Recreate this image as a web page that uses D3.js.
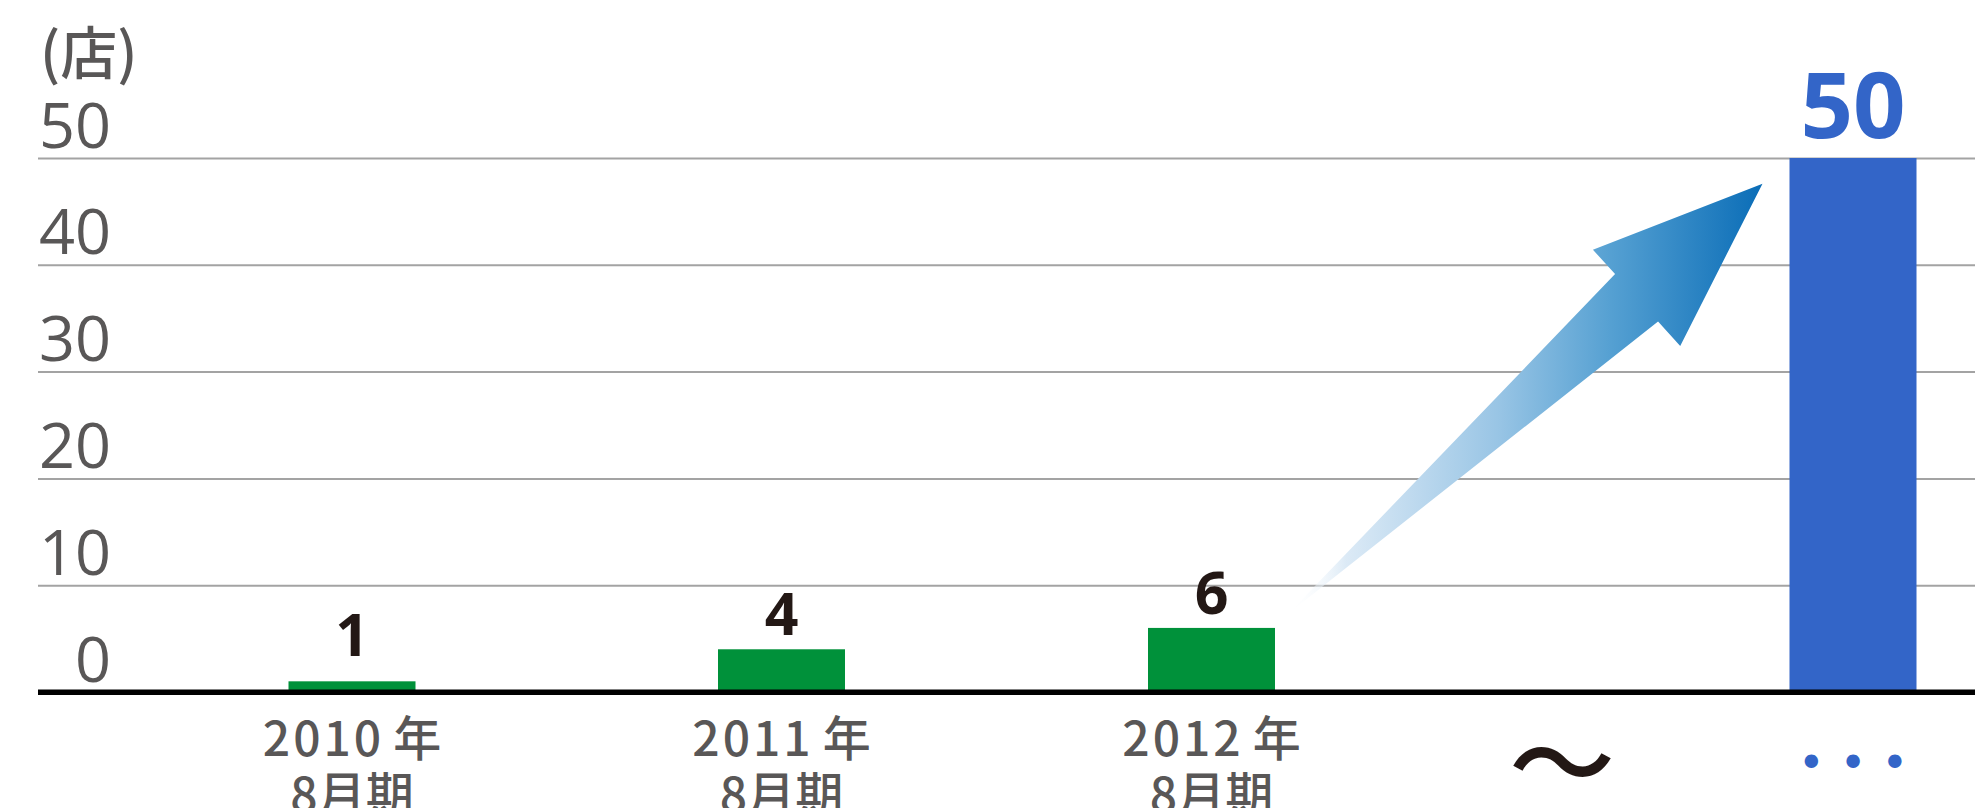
<!DOCTYPE html>
<html>
<head>
<meta charset="utf-8">
<script src="https://cdn.jsdelivr.net/npm/d3@7"></script>
<style>
  html, body { margin: 0; padding: 0; background: #fff; overflow: hidden; }
</style>
</head>
<body>
<div id="chart"></div>
<script>
// data
const categories = ["2010", "2011", "2012", "gap", "target"];
const yearLabels = ["2010", "2011", "2012"];
const periodLabel = "8月期";
const storeCounts = [1, 4, 6, null, 50];
const yTicks = [0, 10, 20, 30, 40, 50];
const unitLabel = "(店)";
const gapLabel = "〜";
const targetLabel = "• • •";

const width = 1975, height = 808;
const left = 38;
const barW = 127;

const gray = "#595757", ink = "#231815", green = "#00913a", blue = "#3365c8";
const jp = "'Noto Sans CJK JP', sans-serif";
const num = "'Open Sans', sans-serif";

const svg = d3.select("#chart").append("svg")
  .attr("width", width)
  .attr("height", height);

const x = d3.scaleOrdinal()
  .domain(categories)
  .range([352, 781.5, 1211.5, 1562, 1853]);

const y = d3.scaleLinear()
  .domain([0, 50])
  .range([692, 158]);

// grid + y labels
const yAxis = svg.append("g")
  .attr("transform", `translate(${left},0)`)
  .call(d3.axisLeft(y).tickValues(yTicks).tickSize(-(width - left)).tickFormat(d3.format("d")));
yAxis.select(".domain").remove();
yAxis.selectAll(".tick line")
  .attr("stroke", (d) => d === 0 ? "#000" : "#a3a3a3")
  .attr("stroke-width", (d) => d === 0 ? 5 : 2);
yAxis.selectAll(".tick text")
  .attr("x", 73)
  .attr("y", -11)
  .attr("dy", 0)
  .attr("text-anchor", "end")
  .attr("font-family", num)
  .attr("font-size", 63)
  .attr("fill", gray);

svg.append("text")
  .attr("x", 40)
  .attr("y", 74)
  .attr("font-family", jp)
  .attr("font-weight", 500)
  .attr("font-size", 57)
  .attr("fill", gray)
  .text(unitLabel);

// arrow
const defs = svg.append("defs");
const grad = defs.append("linearGradient")
  .attr("id", "arrowGrad")
  .attr("gradientUnits", "userSpaceOnUse");

const T = [x("2012") + barW / 2 + 14, y(7.4)];
const P = [x("target") - barW / 2 - 27, y(47.6)];
grad.attr("x1", T[0]).attr("y1", 0).attr("x2", P[0]).attr("y2", 0);
[[0, "#ffffff", 0], [0.12, "#dceaf6", 1], [0.44, "#99c5e5", 1], [0.68, "#55a0d2", 1], [1, "#0a6db7", 1]]
  .forEach(([o, c, a]) => grad.append("stop").attr("offset", o).attr("stop-color", c).attr("stop-opacity", a));

const dx = P[0] - T[0], dy = P[1] - T[1];
const L = Math.hypot(dx, dy);
const u = [dx / L, dy / L];
const n = [u[1], -u[0]];
const headLen = 170, headHalf = 65, shaftHalf = 32;
const base = [T[0] + u[0] * (L - headLen), T[1] + u[1] * (L - headLen)];
const pt = (s) => [base[0] + n[0] * s, base[1] + n[1] * s];
const arrowPts = [T, pt(shaftHalf), pt(headHalf), P, pt(-headHalf), pt(-shaftHalf)];

svg.append("path")
  .attr("d", d3.line()(arrowPts) + "Z")
  .attr("fill", "url(#arrowGrad)");

// bars
const bars = categories.map((c, i) => ({ c, v: storeCounts[i] })).filter((d) => d.v != null);

svg.append("g").selectAll("rect")
  .data(bars)
  .enter()
  .append("rect")
  .attr("x", (d) => x(d.c) - barW / 2)
  .attr("y", (d) => y(d.v))
  .attr("width", barW)
  .attr("height", (d) => y(0) - y(d.v))
  .attr("fill", (d) => d.c === "target" ? blue : green);

// baseline over bars
svg.append("line")
  .attr("x1", left).attr("x2", width)
  .attr("y1", y(0)).attr("y2", y(0))
  .attr("stroke", "#000")
  .attr("stroke-width", 5);

// value labels (small bars keep a minimum label height)
svg.append("g").selectAll("text")
  .data(bars)
  .enter()
  .append("text")
  .attr("x", (d) => x(d.c))
  .attr("y", (d) => d.c === "target" ? y(d.v) - 20 : Math.min(y(d.v), y(2.1)) - 14)
  .attr("text-anchor", "middle")
  .attr("font-family", num)
  .attr("font-weight", "bold")
  .attr("font-size", (d) => d.c === "target" ? 92 : 59)
  .attr("fill", (d) => d.c === "target" ? blue : ink)
  .text((d) => d.v);

// x labels
const xl = svg.append("g").selectAll("text")
  .data(yearLabels)
  .enter()
  .append("text")
  .attr("text-anchor", "middle")
  .attr("font-family", jp)
  .attr("font-weight", 500)
  .attr("font-size", 48)
  .attr("fill", gray);
xl.append("tspan")
  .attr("x", (d) => x(d))
  .attr("y", 756)
  .attr("letter-spacing", 3)
  .text((d) => d)
  .append("tspan")
  .attr("dx", 9)
  .attr("letter-spacing", 0)
  .text("年");
xl.append("tspan")
  .attr("x", (d) => x(d))
  .attr("y", 812)
  .text(periodLabel);

svg.append("text")
  .attr("x", x("gap"))
  .attr("y", 802)
  .attr("text-anchor", "middle")
  .attr("font-family", jp)
  .attr("font-weight", 500)
  .attr("font-size", 106)
  .attr("fill", ink)
  .text(gapLabel);

svg.append("text")
  .attr("x", x("target"))
  .attr("y", 779)
  .attr("text-anchor", "middle")
  .attr("font-family", "'DejaVu Sans', sans-serif")
  .attr("font-size", 46)
  .attr("fill", blue)
  .text(targetLabel);
</script>
</body>
</html>
